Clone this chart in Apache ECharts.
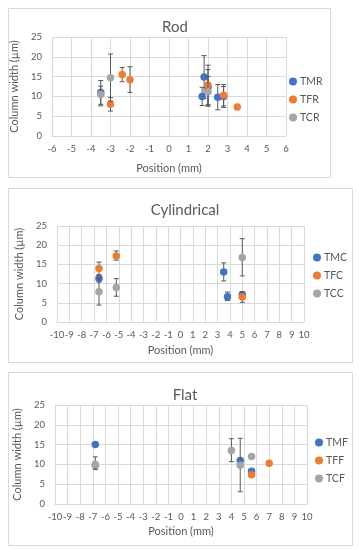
<!DOCTYPE html>
<html>
<head>
<meta charset="utf-8">
<script src="https://cdn.jsdelivr.net/npm/echarts@6/dist/echarts.min.js"></script>
<style>
html,body{margin:0;padding:0;background:#fff;}
#c{width:359px;height:550px;}
</style>
</head>
<body>
<div id="c"></div>
<script>
// ---------- DATA ----------
const panelTitles = ['Rod', 'Cylindrical', 'Flat'];
const xRanges = [[-6, 6], [-10, 10], [-10, 10]];
const yTicks = [0, 5, 10, 15, 20, 25];

// Rod
const TMR_x  = [-3.5, 1.7, 1.8, 2.0, 2.5, 2.8];
const TMR_y  = [11.0, 10.0, 14.9, 12.3, 9.8, 10.0];
const TMR_lo = [8.0, 7.7, 9.5, 7.8, 6.6, 7.6];
const TMR_hi = [14.0, 12.3, 20.3, 16.8, 13.0, 12.5];

const TFR_x  = [-3.0, -2.4, -2.0, 2.0, 2.8, 3.5];
const TFR_y  = [8.0, 15.5, 14.2, 12.9, 10.3, 7.3];
const TFR_lo = [6.3, 13.7, 11.0, 7.9, 7.2, 6.9];
const TFR_hi = [9.7, 17.3, 17.5, 17.9, 13.0, 7.7];

const TCR_x  = [-3.5, -3.0, 2.0];
const TCR_y  = [10.5, 14.7, 11.2];
const TCR_lo = [7.6, 8.8, 7.5];
const TCR_hi = [12.6, 20.7, 15.0];

// Cylindrical
const TMC_x  = [-6.6, 3.5, 3.8, 5.0];
const TMC_y  = [11.3, 13.0, 6.6, 7.1];
const TMC_lo = [10.4, 10.7, 5.6, 6.4];
const TMC_hi = [12.3, 15.4, 7.8, 7.8];

const TFC_x  = [-6.6, -5.2, 5.0];
const TFC_y  = [13.9, 17.2, 6.5];
const TFC_lo = [12.2, 16.1, 5.1];
const TFC_hi = [15.6, 18.5, 7.9];

const TCC_x  = [-6.6, -5.2, 5.0];
const TCC_y  = [7.9, 9.0, 16.8];
const TCC_lo = [4.4, 6.7, 12.0];
const TCC_hi = [11.4, 11.3, 21.7];

// Flat
const TMF_x  = [-6.8, 4.7, 5.6];
const TMF_y  = [15.0, 11.0, 8.3];
const TMF_lo = [null, null, 7.8];
const TMF_hi = [null, null, 8.8];

const TFF_x  = [-6.8, 5.6, 7.0];
const TFF_y  = [9.7, 7.4, 10.3];
const TFF_lo = [null, null, null];
const TFF_hi = [null, null, null];

const TCF_x  = [-6.8, 4.0, 4.7, 5.6];
const TCF_y  = [10.0, 13.5, 9.8, 12.0];
const TCF_lo = [8.7, 10.7, 3.1, null];
const TCF_hi = [11.9, 16.5, 16.6, null];

const seriesNames = [['TMR', 'TFR', 'TCR'], ['TMC', 'TFC', 'TCC'], ['TMF', 'TFF', 'TCF']];
const seriesData = [
  [[TMR_x, TMR_y, TMR_lo, TMR_hi], [TFR_x, TFR_y, TFR_lo, TFR_hi], [TCR_x, TCR_y, TCR_lo, TCR_hi]],
  [[TMC_x, TMC_y, TMC_lo, TMC_hi], [TFC_x, TFC_y, TFC_lo, TFC_hi], [TCC_x, TCC_y, TCC_lo, TCC_hi]],
  [[TMF_x, TMF_y, TMF_lo, TMF_hi], [TFF_x, TFF_y, TFF_lo, TFF_hi], [TCF_x, TCF_y, TCF_lo, TCF_hi]]
];

// ---------- STYLE / LAYOUT ----------
const colors = ['#4472C4', '#ED7D31', '#A5A5A5'];
const txt = '#595959';
const gridCol = '#d9d9d9';
const FONT = 'Lato, "Open Sans", sans-serif';

const frames = [
  {x: 8, y: 8, w: 322, h: 169},
  {x: 8, y: 188, w: 344, h: 174},
  {x: 8, y: 372, w: 344, h: 173}
];
const grids = [
  {left: 52, top: 37, width: 234, height: 99},
  {left: 57, top: 226, width: 247, height: 96},
  {left: 55, top: 405, width: 252, height: 99}
];
const titleY = [15, 198, 383];
const titleX = [170, 180, 180];
const legendPos = [{left: 284, top: 71}, {left: 308, top: 247}, {left: 310, top: 432}];
const xNameGap = [27, 23, 22];

const option = {
  animation: false,
  backgroundColor: '#fff',
  textStyle: {fontFamily: FONT},
  graphic: frames.map(f => ({
    type: 'rect', z: -10, silent: true,
    shape: {x: f.x + 0.5, y: f.y + 0.5, width: f.w, height: f.h},
    style: {fill: '#fff', stroke: gridCol, lineWidth: 1}
  })),
  title: panelTitles.map((t, i) => ({
    text: t, left: titleX[i], top: titleY[i], textAlign: 'center',
    textStyle: {color: txt, fontSize: 15, fontWeight: 'normal', fontFamily: FONT}
  })),
  legend: seriesNames.map((names, i) => ({
    data: names, orient: 'vertical', left: legendPos[i].left, top: legendPos[i].top,
    icon: 'circle', itemWidth: 8, itemHeight: 8, itemGap: 7,
    textStyle: {color: txt, fontSize: 10.5, fontFamily: FONT, padding: [0, 0, 0, -2]}
  })),
  grid: grids,
  xAxis: xRanges.map((r, i) => ({
    type: 'value', gridIndex: i, min: r[0], max: r[1], interval: 1,
    name: 'Position (mm)', nameLocation: 'middle', nameGap: xNameGap[i],
    nameTextStyle: {color: txt, fontSize: 11, fontFamily: FONT},
    axisLine: {show: true, onZero: false, lineStyle: {color: gridCol}},
    axisTick: {show: false},
    axisLabel: {color: txt, fontSize: 9.5, margin: 8, interval: 0, hideOverlap: false, fontFamily: FONT},
    splitLine: {show: true, lineStyle: {color: gridCol, width: 1}}
  })),
  yAxis: xRanges.map((r, i) => ({
    type: 'value', gridIndex: i, min: yTicks[0], max: yTicks[yTicks.length - 1], interval: 5,
    name: 'Column width (µm)', nameLocation: 'middle', nameGap: 30, nameRotate: 90,
    nameTextStyle: {color: txt, fontSize: 11, fontFamily: FONT},
    axisLine: {show: false},
    axisTick: {show: false},
    axisLabel: {color: txt, fontSize: 9.5, margin: 10, fontFamily: FONT},
    splitLine: {show: true, lineStyle: {color: gridCol, width: 1}}
  })),
  series: []
};

function errRender(params, api) {
  const x = api.value(0), lo = api.value(1), hi = api.value(2);
  const p1 = api.coord([x, lo]);
  const p2 = api.coord([x, hi]);
  const cw = 2.5;
  const st = {stroke: '#595959', lineWidth: 1, fill: null};
  return {
    type: 'group',
    children: [
      {type: 'line', shape: {x1: p1[0], y1: p1[1], x2: p2[0], y2: p2[1]}, style: st},
      {type: 'line', shape: {x1: p1[0] - cw, y1: p1[1], x2: p1[0] + cw, y2: p1[1]}, style: st},
      {type: 'line', shape: {x1: p2[0] - cw, y1: p2[1], x2: p2[0] + cw, y2: p2[1]}, style: st}
    ]
  };
}

seriesData.forEach((panel, pi) => {
  panel.forEach((d, si) => {
    const [xs, ys, lo, hi] = d;
    const errs = [];
    xs.forEach((x, k) => { if (lo[k] != null && hi[k] != null) errs.push([x, lo[k], hi[k]]); });
    option.series.push({
      type: 'custom', name: seriesNames[pi][si] + ' err', xAxisIndex: pi, yAxisIndex: pi,
      renderItem: errRender, data: errs, encode: {x: 0, y: [1, 2]}, z: 2 + si * 2, silent: true
    });
    option.series.push({
      type: 'scatter', name: seriesNames[pi][si], xAxisIndex: pi, yAxisIndex: pi,
      symbol: 'circle', symbolSize: 7.5,
      itemStyle: {color: colors[si], opacity: 1},
      data: xs.map((x, k) => [x, ys[k]]), z: 3 + si * 2
    });
  });
});

const chart = echarts.init(document.getElementById('c'), null, {renderer: 'canvas'});
chart.setOption(option);
</script>
</body>
</html>
